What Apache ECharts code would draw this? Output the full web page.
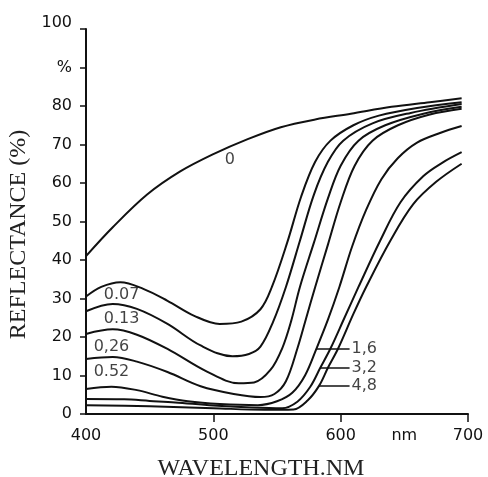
<!DOCTYPE html>
<html>
<head>
<meta charset="utf-8">
<script src="https://cdn.jsdelivr.net/npm/echarts@6/dist/echarts.min.js"></script>
<style>
html,body{margin:0;padding:0;background:#fff;}
#chart{width:488px;height:477px;}
</style>
</head>
<body>
<div id="chart"></div>
<script>
// ---- data (wavelength nm, reflectance %) ----
var curve0    = [[400,41],[421,48.5],[448,57],[474,63],[500,67.5],[527,71.4],[553,74.5],[580,76.5],[608,78],[640,79.8],[670,81],[695,82]];
var curve007  = [[400,30.5],[412,33],[427,34.2],[445,32.5],[464,29.4],[485,25.5],[505,23.4],[522,24],[537,27.2],[546,33],[558,44.5],[569,56.5],[580,65.5],[592,71],[610,75],[630,77.5],[660,79.5],[695,81]];
var curve013  = [[400,26.7],[421,28.6],[440,27.3],[464,23.4],[490,17.8],[515,15],[528,15.6],[537,17.5],[547,24],[557,33],[568,45],[579,57],[590,65.5],[602,71],[625,75.5],[655,78.2],[695,80.5]];
var curve026  = [[400,20.8],[421,22],[440,20.6],[464,16.9],[495,11],[520,8],[532,8.2],[545,11.5],[554,17],[561,24],[568,33],[579,44.5],[590,56],[600,64.5],[614,71],[635,75],[665,78],[695,79.8]];
var curve052  = [[400,14.3],[421,14.8],[440,13.6],[464,10.9],[490,7.2],[516,5.2],[537,4.4],[548,5.2],[557,8.5],[566,17],[573,25],[580,33],[590,44],[600,55],[611,64.5],[625,71],[645,75],[670,77.8],[695,79.3]];
var curve16   = [[400,6.5],[420,7.1],[440,6.2],[460,4.5],[480,3.3],[505,2.6],[535,2.3],[550,3.3],[562,5.5],[572,10],[581,17],[590,24.5],[599,33],[609,43.5],[620,53],[632,61],[645,66.5],[660,70.5],[678,73],[695,74.8]];
var curve32   = [[400,3.9],[430,3.8],[450,3.4],[470,3],[500,2.2],[530,1.7],[554,1.5],[566,3.2],[576,7],[584,12],[592,17],[603,25],[614,33],[631,45],[647,55],[665,61.8],[680,65.3],[695,68]];
var curve48   = [[400,2.3],[450,2],[500,1.5],[540,1.1],[563,1.2],[574,3.5],[583,7.3],[590,12],[598,17],[610,26],[620,33],[639,45],[657,54.5],[675,60.3],[695,65]];

// curve labels and the point of each label (data coordinates)
var leftLabels     = ['0', '0.07', '0.13', '0,26', '0.52'];
var leftLabelSpots = [[513,66], [428,30.9], [428,24.7], [420,17.4], [420,10.9]];
var rightLabels    = ['1,6', '3,2', '4,8'];
var leaderStarts   = [[581,17], [584,12], [583,7.3]];
var leaderEndX     = 607;

// tick labels
var yTickValues = [0,10,20,30,40,50,60,70,80,90,100];
var yTickLabels = ['0','10','20','30','40','50','60','70','80','%','100'];
var xTickValues = [500,600,700];
var xLabelValues = [400,500,600,650,700];
var xLabelTexts  = ['400','500','600','nm','700'];

var INK = '#111111';
var LABEL_FONT = 'DejaVu Sans';
var chart = echarts.init(document.getElementById('chart'), null, {renderer:'canvas'});

function curveSeries(data){
  return {type:'line', data:data, smooth:0.35, showSymbol:false, symbol:'none',
          lineStyle:{color:INK, width:2}, silent:true, z:3};
}

var series = [curve0,curve007,curve013,curve026,curve052,curve16,curve32,curve48].map(curveSeries);

series.push({
  type:'scatter', symbolSize:0, silent:true, z:5,
  data: leftLabels.map(function(t,i){ return {name:t, value:leftLabelSpots[i]}; }),
  label:{show:true, position:'inside', formatter:'{b}', color:INK,
         fontFamily:LABEL_FONT, fontSize:16}
});
series.push({
  type:'scatter', symbolSize:0, silent:true, z:5,
  data: rightLabels.map(function(t,i){ return {name:t, value:[leaderEndX, leaderStarts[i][1]]}; }),
  label:{show:true, position:'right', distance:2, formatter:'{b}', color:INK,
         fontFamily:LABEL_FONT, fontSize:16},
  markLine:{
    silent:true, symbol:['none','none'], label:{show:false},
    lineStyle:{color:INK, width:1.5, type:'solid'},
    data: leaderStarts.map(function(p){ return [{coord:p},{coord:[leaderEndX,p[1]]}]; })
  }
});

chart.setOption({
  backgroundColor:'#ffffff',
  animation:false,
  grid:{left:86, right:20, top:29, bottom:63, containLabel:false, outerBoundsMode:'none'},
  xAxis:{
    type:'value', min:400, max:700, interval:50,
    name:'WAVELENGTH.NM', nameLocation:'middle', nameGap:43,
    nameTextStyle:{fontFamily:'Liberation Serif', fontSize:24, color:'#222', padding:[0,32,0,0]},
    axisLine:{show:true, onZero:false, lineStyle:{color:INK, width:2}},
    axisTick:{show:true, inside:false, length:8, customValues:xTickValues, lineStyle:{color:INK, width:1.5}},
    axisLabel:{show:true, margin:14, customValues:xLabelValues, color:INK,
               fontFamily:LABEL_FONT, fontSize:16,
               formatter:function(v){ var i=xLabelValues.indexOf(v); return i>=0?xLabelTexts[i]:''; }},
    splitLine:{show:false}
  },
  yAxis:{
    type:'value', min:0, max:100, interval:10,
    name:'REFLECTANCE (%)', nameLocation:'middle', nameGap:50, nameRotate:90,
    nameTextStyle:{fontFamily:'Liberation Serif', fontSize:24, color:'#222', padding:[0,26,0,0]},
    axisLine:{show:true, lineStyle:{color:INK, width:2}},
    axisTick:{show:true, inside:false, length:6, customValues:yTickValues, lineStyle:{color:INK, width:1.5}},
    axisLabel:{show:true, margin:14, customValues:yTickValues, color:INK,
               fontFamily:LABEL_FONT, fontSize:16,
               formatter:function(v){
                 var i=yTickValues.indexOf(v); if(i<0) return '';
                 return v===100 ? '{up|'+yTickLabels[i]+'}' : yTickLabels[i];
               },
               rich:{up:{fontFamily:LABEL_FONT, fontSize:16, color:INK, padding:[0,0,12,0]}}},
    splitLine:{show:false}
  },
  series:series
});
</script>
</body>
</html>
